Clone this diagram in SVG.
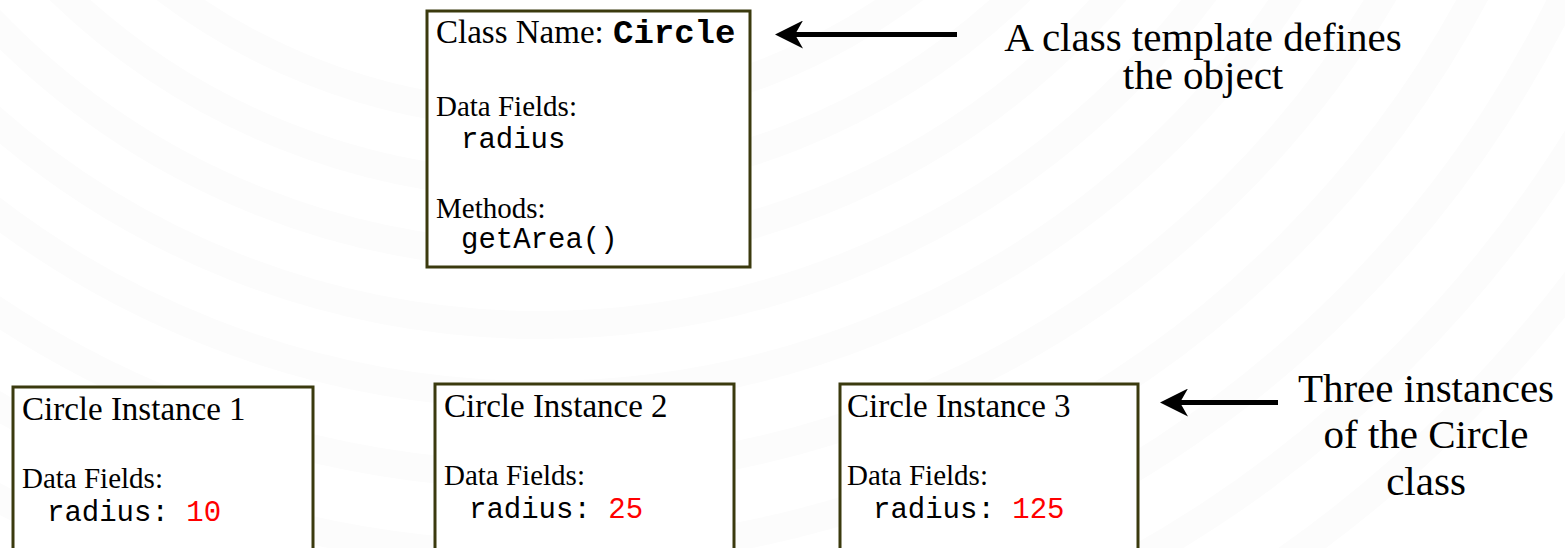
<svg xmlns="http://www.w3.org/2000/svg" width="1565" height="548" viewBox="0 0 1565 548">
  <defs>
    <style>
      .box { fill: #ffffff; stroke: #3b3a0e; stroke-width: 3; }
      .serif { font-family: "Liberation Serif", "Times New Roman", serif; fill: #000000; }
      .mono { font-family: "Liberation Mono", "Courier New", monospace; fill: #000000; }
      .title { font-size: 33px; }
      .label { font-size: 29px; }
      .code { font-size: 29px; }
      .value { fill: #ff0000; }
      .note { font-size: 41px; text-anchor: middle; }
      .ring { fill: none; stroke: #fcfcfc; stroke-width: 28; }
      .conn { stroke: #000000; stroke-width: 5; fill: none; marker-end: url(#head); }
    </style>
    <marker id="head" viewBox="0 0 28 28" markerUnits="userSpaceOnUse" markerWidth="28" markerHeight="28" refX="8" refY="14" orient="auto">
      <path d="M28,14 L0,0 L8,14 L0,28 Z" fill="#000000"/>
    </marker>
  </defs>

  <!-- page background with faint concentric rings -->
  <rect x="0" y="0" width="1565" height="548" fill="#ffffff"/>
  <g id="background">
    <circle class="ring" cx="540" cy="-505" r="620"/>
    <circle class="ring" cx="540" cy="-505" r="690"/>
    <circle class="ring" cx="540" cy="-505" r="760"/>
    <circle class="ring" cx="540" cy="-505" r="830"/>
    <circle class="ring" cx="540" cy="-505" r="900"/>
    <circle class="ring" cx="540" cy="-505" r="980"/>
    <circle class="ring" cx="540" cy="-505" r="1060"/>
    <circle class="ring" cx="540" cy="-505" r="1140"/>
    <circle class="ring" cx="540" cy="-505" r="1220"/>
    <circle class="ring" cx="540" cy="-505" r="1300"/>
  </g>

  <!-- class template -->
  <g id="class-circle">
    <rect class="box" x="427" y="11" width="323" height="256"/>
    <text class="serif title" x="436" y="43">Class Name: <tspan class="mono" x="613" font-weight="bold" font-size="34px">Circle</tspan></text>
    <text class="serif label" x="436" y="116">Data Fields:</text>
    <text class="mono code" x="461" y="148">radius</text>
    <text class="serif label" x="436" y="218">Methods:</text>
    <text class="mono code" x="461" y="248">getArea()</text>
  </g>

  <!-- instances -->
  <g id="instance-1">
    <rect class="box" x="13" y="387" width="300" height="180"/>
    <text class="serif title" x="22" y="420">Circle Instance 1</text>
    <text class="serif label" x="22" y="488">Data Fields:</text>
    <text class="mono code" x="47" y="521">radius: <tspan class="value">10</tspan></text>
  </g>

  <g id="instance-2">
    <rect class="box" x="435" y="384" width="299" height="180"/>
    <text class="serif title" x="444" y="417">Circle Instance 2</text>
    <text class="serif label" x="444" y="485">Data Fields:</text>
    <text class="mono code" x="469" y="518">radius: <tspan class="value">25</tspan></text>
  </g>

  <g id="instance-3">
    <rect class="box" x="840" y="384" width="298" height="180"/>
    <text class="serif title" x="847" y="417">Circle Instance 3</text>
    <text class="serif label" x="847" y="485">Data Fields:</text>
    <text class="mono code" x="873" y="518">radius: <tspan class="value">125</tspan></text>
  </g>

  <!-- annotations -->
  <g id="note-template">
    <text class="serif note" x="1203" y="51">A class template defines</text>
    <text class="serif note" x="1203" y="89">the object</text>
  </g>
  <g id="note-instances">
    <text class="serif note" x="1426" y="402">Three instances</text>
    <text class="serif note" x="1426" y="448">of the Circle</text>
    <text class="serif note" x="1426" y="495">class</text>
  </g>

  <!-- connectors -->
  <g id="connectors">
    <line class="conn" x1="957" y1="34.5" x2="795" y2="34.5"/>
    <line class="conn" x1="1278" y1="402.5" x2="1180" y2="402.5"/>
  </g>
</svg>
